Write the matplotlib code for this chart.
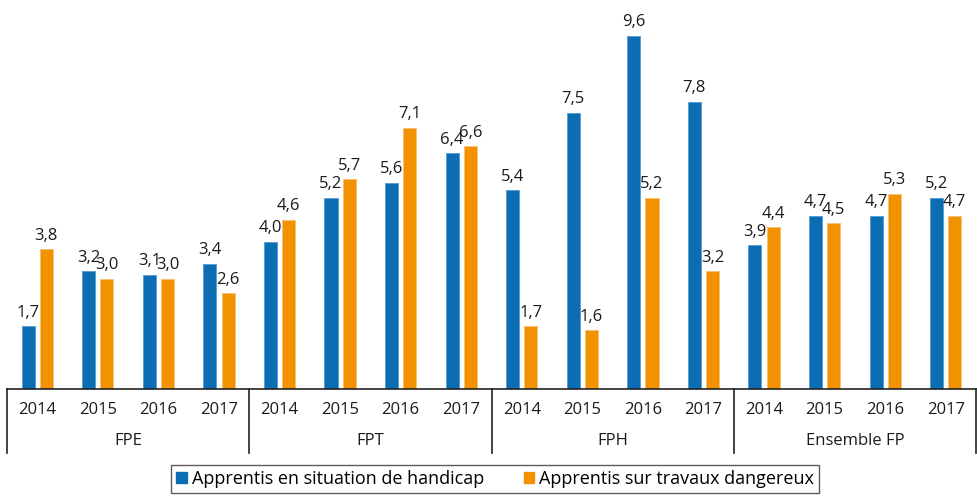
import matplotlib
matplotlib.use("Agg")
import matplotlib.pyplot as plt
import matplotlib.transforms as mtransforms
from matplotlib.patches import Patch

groups = ["FPE", "FPT", "FPH", "Ensemble FP"]
years = ["2014", "2015", "2016", "2017"]
handicap = [1.7, 3.2, 3.1, 3.4, 4.0, 5.2, 5.6, 6.4, 5.4, 7.5, 9.6, 7.8, 3.9, 4.7, 4.7, 5.2]
dangereux = [3.8, 3.0, 3.0, 2.6, 4.6, 5.7, 7.1, 6.6, 1.7, 1.6, 5.2, 3.2, 4.4, 4.5, 5.3, 4.7]
series_names = ["Apprentis en situation de handicap", "Apprentis sur travaux dangereux"]

plt.rcParams['font.family'] = ['Open Sans', 'DejaVu Sans']
BLUE = "#0b6db3"
ORANGE = "#f39200"

fig = plt.figure(figsize=(9.77, 4.98), dpi=100)
W, H = 977, 498
base = 389
top = 21
ax = fig.add_axes([7 / W, (H - base) / H, (976 - 7) / W, (base - top) / H])

n = len(handicap)
xs = list(range(n))
bw = 0.215
off = 0.15
b1 = ax.bar([x - off for x in xs], handicap, bw, color=BLUE, edgecolor="#5b9fd0", linewidth=0.7)
b2 = ax.bar([x + off for x in xs], dangereux, bw, color=ORANGE, edgecolor="#f8c070", linewidth=0.7)

for bars, vals in ((b1, handicap), (b2, dangereux)):
    for r, v in zip(bars, vals):
        ax.annotate(f"{v:.1f}".replace(".", ","), (r.get_x() + r.get_width() / 2, v),
                    xytext=(0, 4), textcoords="offset points", ha="center", va="bottom",
                    fontsize=12, color="#1a1a1a", clip_on=False)

ax.set_xlim(-0.5, n - 0.5)
ax.set_ylim(0, 10)
for s in ["top", "right", "left"]:
    ax.spines[s].set_visible(False)
ax.spines["bottom"].set_color("#222222")
ax.spines["bottom"].set_linewidth(1.2)
ax.set_yticks([])
ax.set_xticks([])

trans = mtransforms.blended_transform_factory(ax.transData, ax.transAxes)
ax_h = base - top
y_sep = -(453 - base) / ax_h
y_year = -(410 - base) / ax_h
y_group = -(441 - base) / ax_h
for i in range(len(groups) + 1):
    xv = -0.5 + 4 * i
    ax.plot([xv, xv], [0, y_sep], transform=trans, color="#222222", lw=1.2, clip_on=False)
for i in range(n):
    ax.text(i, y_year, years[i % 4], transform=trans, ha="center", va="center",
            fontsize=12, color="#1a1a1a")
for g, name in enumerate(groups):
    ax.text(4 * g + 1.5, y_group, name, transform=trans, ha="center", va="center",
            fontsize=12, color="#1a1a1a")

handles = [Patch(facecolor=BLUE, edgecolor=BLUE), Patch(facecolor=ORANGE, edgecolor=ORANGE)]
leg = fig.legend(handles, series_names, loc="center", bbox_to_anchor=(495 / W, (H - 479) / H),
                 ncol=2, fontsize=13, frameon=True, fancybox=False, handlelength=0.6,
                 handleheight=0.6, handletextpad=0.25, columnspacing=2.2, borderpad=0.3)
leg.get_frame().set_edgecolor("#333333")
leg.get_frame().set_linewidth(1.0)

fig.savefig("out.png", dpi=100)
